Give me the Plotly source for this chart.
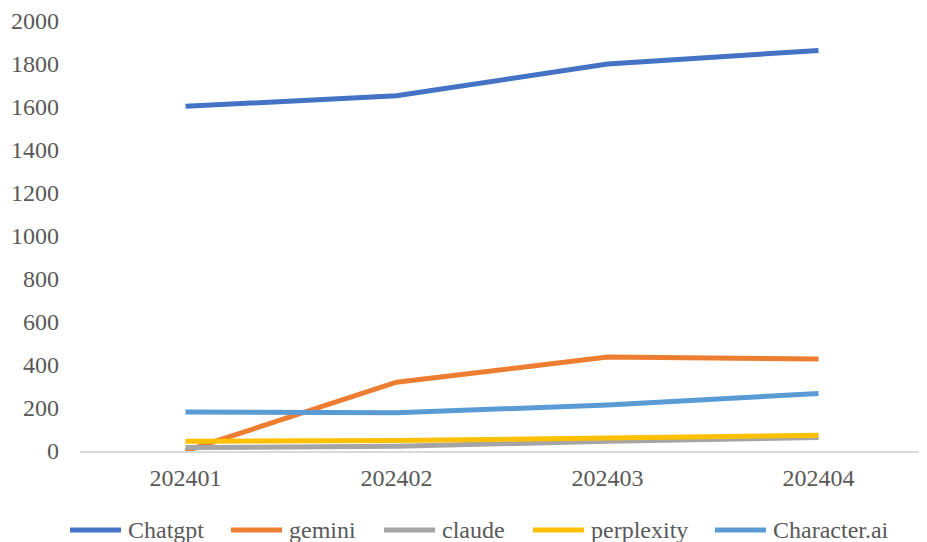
import plotly.graph_objects as go

months = ["202401", "202402", "202403", "202404"]
chatgpt = [1603, 1652, 1800, 1863]
gemini = [0, 320, 437, 428]
claude = [16, 22, 45, 63]
perplexity = [45, 49, 60, 73]
character_ai = [181, 178, 214, 268]

names = ["Chatgpt", "gemini", "claude", "perplexity", "Character.ai"]
values = [chatgpt, gemini, claude, perplexity, character_ai]
colors = ["#4472C4", "#ED7D31", "#A5A5A5", "#FFC000", "#5B9BD5"]

# layout geometry (pixels within the figure)
W, H = 919, 534
ML, MR, MT, MB = 72, 3, 13, 91
PW, PH = W - ML - MR, H - MT - MB
legend_starts = [60, 221, 374, 523, 705]   # legend symbol left edges
legend_sym_len = 55
legend_y_px = 522

font_family = "Liberation Serif"
txt_color = "#595959"

fig = go.Figure()
for name, vals, color in zip(names, values, colors):
    fig.add_trace(go.Scatter(
        x=months, y=vals, name=name, mode="lines",
        line=dict(color=color, width=5), showlegend=False,
    ))

def px_x(x):
    return (x - ML) / PW

def px_y(y):
    return (MT + PH - y) / PH

shapes, annotations = [], []
for name, color, x0 in zip(names, colors, legend_starts):
    shapes.append(dict(type="line", xref="paper", yref="paper",
                       x0=px_x(x0 + 2), x1=px_x(x0 + legend_sym_len - 2),
                       y0=px_y(legend_y_px), y1=px_y(legend_y_px),
                       line=dict(color=color, width=5)))
    annotations.append(dict(xref="paper", yref="paper", x=px_x(x0 + legend_sym_len + 3),
                            y=px_y(legend_y_px), xanchor="left", yanchor="middle",
                            text=name, showarrow=False,
                            font=dict(family=font_family, size=24, color=txt_color)))

fig.update_layout(
    width=W, height=H,
    margin=dict(l=ML, r=MR, t=MT, b=MB, autoexpand=False),
    paper_bgcolor="white", plot_bgcolor="white",
    font=dict(family=font_family, size=24, color=txt_color),
    showlegend=False,
    shapes=shapes, annotations=annotations,
    xaxis=dict(type="category", range=[-0.5, 3.5], showgrid=False,
               showline=True, linecolor="#D9D9D9", linewidth=1.5,
               ticks="", tickfont=dict(family=font_family, size=24, color=txt_color),
               zeroline=False, ticklabelstandoff=4),
    yaxis=dict(range=[0, 2000], dtick=200, showgrid=False, showline=False,
               zeroline=False, ticks="", tickfont=dict(family=font_family, size=24, color=txt_color),
               ticklabelstandoff=20),
)

fig.write_html("out.html")
